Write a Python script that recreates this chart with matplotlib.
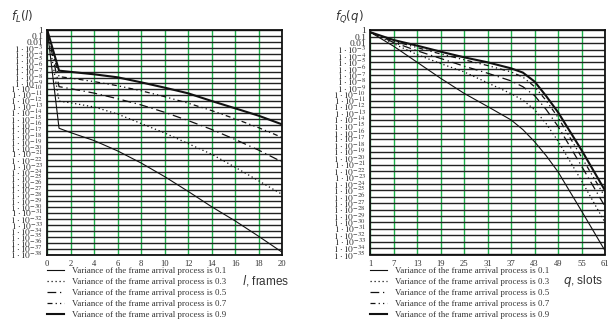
import numpy as np
import matplotlib
matplotlib.use("Agg")
import matplotlib.pyplot as plt

plt.rcParams["font.family"] = ["Liberation Serif", "DejaVu Serif"]
plt.rcParams["mathtext.fontset"] = "stix"

# f_L(l): read-off decades below 1 (value = 10 ** -decades)
l_frames = [0, 1, 2, 4, 6, 8, 10, 12, 14, 16, 18, 20]
fl_var01 = [0, 16.6, 17.35, 18.7, 20.45, 22.5, 24.8, 27.3, 29.9, 32.3, 34.9, 37.6]
fl_var03 = [0, 12.0, 12.3, 13.0, 14.2, 15.8, 17.4, 19.2, 21.0, 23.2, 25.5, 27.8]
fl_var05 = [0, 9.55, 9.9, 10.65, 11.6, 12.65, 13.9, 15.3, 16.8, 18.5, 20.3, 22.3]
fl_var07 = [0, 7.86, 8.1, 8.7, 9.4, 10.25, 11.25, 12.35, 13.6, 15.0, 16.5, 18.15]
fl_var09 = [0, 6.84, 7.05, 7.46, 7.97, 8.82, 9.72, 10.68, 11.98, 13.22, 14.47, 15.94]

# f_Q(q)
q_slots = [1, 7, 13, 19, 25, 31, 37, 40, 43, 46, 49, 55, 61]
fq_var01 = [0.3, 2.5, 5.0, 7.5, 9.85, 11.9, 14.0, 15.5, 17.4, 19.6, 22.1, 28.2, 34.4]
fq_var03 = [0.3, 2.1, 3.8, 5.2, 6.5, 8.2, 9.9, 10.9, 12.4, 14.6, 17.3, 23.5, 30.0]
fq_var05 = [0.3, 1.9, 3.2, 4.4, 5.6, 6.7, 7.9, 8.8, 10.2, 12.4, 15.0, 21.2, 27.5]
fq_var07 = [0.3, 1.7, 2.7, 3.7, 4.6, 5.5, 6.5, 7.3, 8.8, 11.0, 13.6, 19.8, 26.0]
fq_var09 = [0.3, 1.52, 2.4, 3.34, 4.22, 5.0, 5.94, 6.6, 8.0, 10.3, 12.8, 18.7, 25.0]

variances = ["0.1", "0.3", "0.5", "0.7", "0.9"]
l_ticks = [0, 2, 4, 6, 8, 10, 12, 14, 16, 18, 20]
q_ticks = [1, 7, 13, 19, 25, 31, 37, 43, 49, 55, 61]

styles = [
    dict(ls="-", lw=0.8),
    dict(ls=(0, (1, 2.2)), lw=0.9),
    dict(ls=(0, (7, 3, 1, 3)), lw=0.9),
    dict(ls=(0, (4, 2.5, 1, 2.5, 1, 2.5)), lw=0.9),
    dict(ls="-", lw=1.5),
]

W, H = 608, 324
fig = plt.figure(figsize=(W / 100, H / 100), dpi=100)


def px_rect(x0, y0, x1, y1):
    return [x0 / W, 1 - y1 / H, (x1 - x0) / W, (y1 - y0) / H]


def ylabels(ndec):
    out = []
    for k in range(ndec + 1):
        if k == 0:
            out.append("1")
        elif k == 1:
            out.append("0.1")
        elif k == 2:
            out.append("0.01")
        else:
            out.append(r"$1\cdot10^{-%d}$" % k)
    return out


def setup(ax, xlim, xticks, ndec):
    ax.set_yscale("log")
    ax.set_xlim(*xlim)
    ax.set_ylim(10.0 ** -ndec, 1)
    ax.set_xticks(xticks)
    ax.set_yticks([10.0 ** -k for k in range(ndec + 1)])
    ax.set_yticklabels(ylabels(ndec))
    ax.minorticks_off()
    ax.tick_params(length=0, colors="#333333")
    ax.tick_params(axis="x", pad=4, labelsize=6.2)
    ax.tick_params(axis="y", pad=3, labelsize=6.8)
    ax.grid(axis="y", color="#222222", lw=1.0)
    ax.grid(axis="x", color="#1db34a", lw=1.0)
    ax.set_axisbelow(True)
    for s in ax.spines.values():
        s.set_linewidth(1.3)
        s.set_color("#111111")


axL = fig.add_axes(px_rect(47.3, 30.3, 282, 254.5))
setup(axL, (0, 20), l_ticks, 38)
fl = [fl_var01, fl_var03, fl_var05, fl_var07, fl_var09]
handles = []
for vals, st, v in zip(fl, styles, variances):
    h, = axL.plot(l_frames, 10.0 ** -np.array(vals), color="#111111",
                  label="Variance of the frame arrival process is " + v, **st)
    handles.append(h)

axR = fig.add_axes(px_rect(370.3, 30.3, 605, 254.5))
setup(axR, (1, 61), q_ticks, 35)
fq = [fq_var01, fq_var03, fq_var05, fq_var07, fq_var09]
for vals, st in zip(fq, styles):
    axR.plot(q_slots, 10.0 ** -np.array(vals), color="#111111", **st)

for x0 in (47, 370):
    fig.legend(handles=handles, loc="upper left",
               bbox_to_anchor=(x0 / W, 1 - 267 / H), frameon=False,
               fontsize=6.4, handlelength=1.9, handletextpad=0.9,
               labelspacing=0.3, borderpad=0, borderaxespad=0,
               labelcolor="#333333")

sans = ["Liberation Sans", "DejaVu Sans"]
fig.text(11 / W, 1 - 17 / H, r"$f_L(l)$", family=sans, fontsize=8.5,
         va="center", math_fontfamily="dejavusans", color="#333333")
fig.text(335 / W, 1 - 17 / H, r"$f_Q(q)$", family=sans, fontsize=8.5,
         va="center", math_fontfamily="dejavusans", color="#333333")
fig.text(242 / W, 1 - 281 / H, r"$l$, frames", family=sans, fontsize=8.5,
         va="center", math_fontfamily="dejavusans", color="#333333")
fig.text(563 / W, 1 - 281 / H, r"$q$, slots", family=sans, fontsize=8.5,
         va="center", math_fontfamily="dejavusans", color="#333333")

fig.savefig("out.png", dpi=100)
